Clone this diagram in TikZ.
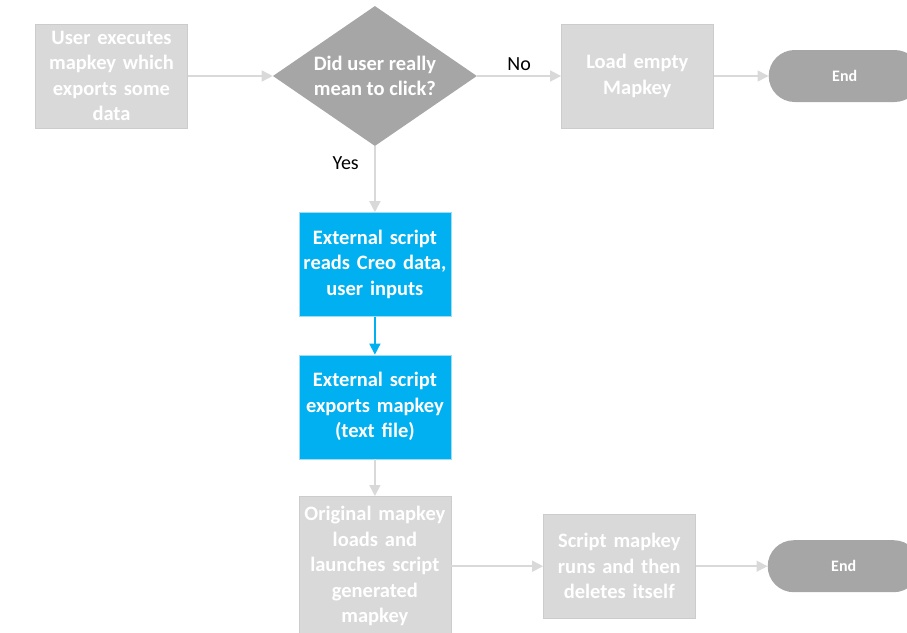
\documentclass[tikz,border=0pt]{standalone}
\usepackage{fontspec}
\setmainfont{Carlito}
\usetikzlibrary{positioning,shapes.geometric,arrows.meta}

\definecolor{procgray}{HTML}{D9D9D9}
\definecolor{edgegray}{HTML}{CCCCCC}
\definecolor{termgray}{HTML}{A6A6A6}
\definecolor{scriptblue}{HTML}{00B0F0}
\definecolor{scriptedge}{HTML}{9FDDF5}

\tikzset{
    proc/.style={draw=edgegray, fill=procgray, text=white, font=\bfseries\fontsize{20.5}{25.5}\selectfont,
        minimum width=152pt, minimum height=104pt, text width=150pt, align=center, inner sep=0pt},
    script/.style={proc, draw=scriptedge, fill=scriptblue},
    decision/.style={diamond, fill=termgray, text=white, font=\bfseries\fontsize{20.5}{25.5}\selectfont,
        shape aspect=1.46, minimum width=204pt, minimum height=140pt, align=center, inner sep=0pt},
    terminal/.style={fill=termgray, text=white, font=\bfseries\fontsize{16}{18}\selectfont,
        rounded corners=26pt, minimum width=152pt, minimum height=52pt, inner sep=0pt},
    flow/.style={draw=procgray, line width=1.6pt, -{Triangle[length=11pt,width=11pt]}},
    answer/.style={font=\fontsize{20}{22}\selectfont, text=black}
}

\begin{document}
\begin{tikzpicture}[x=1pt, y=-1pt]
    \useasboundingbox (0,0) rectangle (907,632);

    \node (user) [proc] at (111.5,76) {User executes\\mapkey which\\exports some\\data};
    \node (ask) [decision, right=85pt of user] {Did user really\\mean to click?};
    \node (load) [proc, right=84pt of ask] {Load empty\\Mapkey};
    \node (end1) [terminal, right=55pt of load] {End};

    \node (readdata) [script, below=66pt of ask] {External script\\reads Creo data,\\user inputs};
    \node (export) [script, below=38pt of readdata] {External script\\exports mapkey\\(text file)};
    \node (original) [proc, minimum height=140pt, below=37pt of export] {Original mapkey\\loads and\\launches script\\generated\\mapkey};
    \node (runs) [proc, right=92pt of original] {Script mapkey\\runs and then\\deletes itself};
    \node (end2) [terminal, right=72pt of runs] {End};

    \draw[flow] (user.east) -- (ask.west);
    \draw[flow] (ask.east) -- node[answer, above=1pt] {No} (load.west);
    \draw[flow] (load.east) -- (end1.west);
    \draw[flow] (ask.south) -- node[answer, pos=0.25, left=12pt] {Yes} (readdata.north);
    \draw[flow, draw=scriptblue] (readdata.south) -- (export.north);
    \draw[flow] (export.south) -- (original.north);
    \draw[flow] (original.east) -- (runs.west);
    \draw[flow] (runs.east) -- (end2.west);
\end{tikzpicture}
\end{document}
